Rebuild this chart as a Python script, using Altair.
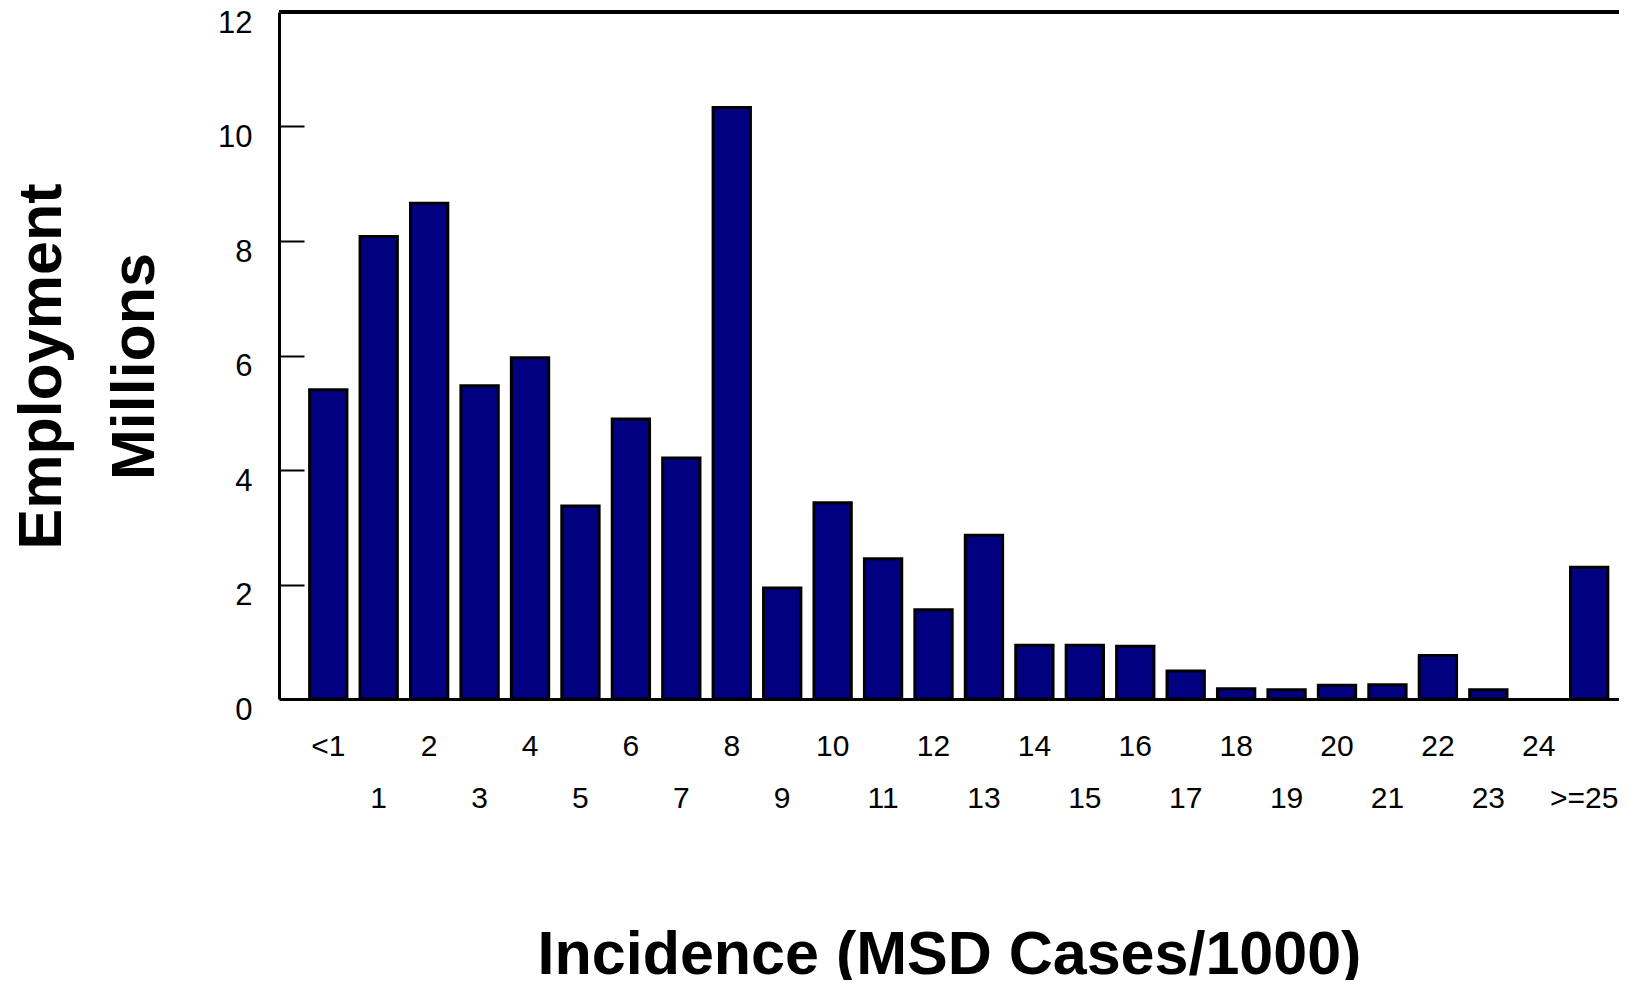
import altair as alt
import pandas as pd

categories = ["<1", "1", "2", "3", "4", "5", "6", "7", "8", "9", "10", "11", "12",
              "13", "14", "15", "16", "17", "18", "19", "20", "21", "22", "23", "24", ">=25"]
values = [5.40, 8.08, 8.66, 5.47, 5.96, 3.37, 4.89, 4.21, 10.33, 1.94, 3.43, 2.45, 1.56,
          2.86, 0.94, 0.94, 0.92, 0.49, 0.18, 0.16, 0.24, 0.25, 0.76, 0.16, 0.0, 2.30]
y_ticks = [0, 2, 4, 6, 8, 10, 12]
inner_ticks = [2, 4, 6, 8, 10]

df = pd.DataFrame({"cat": categories, "value": values})

FONT = "Liberation Sans"
W, H = 1340, 687

odd_labels = categories[1::2]
odd_list = ",".join("'%s'" % s for s in odd_labels)
label_expr = f"indexof([{odd_list}], datum.label) >= 0 ? ['', datum.label] : datum.label"

yscale = alt.Scale(domain=[0, 12], nice=False, zero=True)

bars = alt.Chart(df).mark_bar(color="#000080", stroke="black", strokeWidth=3).encode(
    x=alt.X("cat:N", sort=categories,
            scale=alt.Scale(paddingInner=0.26, paddingOuter=0.414, align=0.733),
            axis=alt.Axis(
                title="Incidence (MSD Cases/1000)",
                titleFont=FONT, titleFontSize=61, titleFontWeight="bold", titleColor="black",
                titleX=670, titleY=274, titleBaseline="alphabetic", titleAlign="center",
                titleAnchor="middle",
                labelExpr=label_expr, labelFont=FONT, labelFontSize=30, labelColor="black",
                labelBaseline="top", labelPadding=32, labelLineHeight=52, labelAngle=0,
                labelOverlap=False,
                labelOffset=alt.condition("datum.label == '>=25'", alt.value(-5), alt.value(0)),
                ticks=False, tickSize=0,
                domainColor="black", domainWidth=3,
            )),
    y=alt.Y("value:Q", scale=yscale, stack=None,
            axis=alt.Axis(
                title=["Employment", "Millions"],
                titleFont=FONT, titleFontSize=61, titleFontWeight="bold", titleColor="black",
                titleAngle=270, titleX=-219, titleY=354, titleBaseline="alphabetic",
                titleAlign="center", titleLineHeight=93,
                values=y_ticks, format="d", labelFont=FONT, labelFontSize=31, labelColor="black",
                labelPadding=27, labelOffset=11, labelBaseline="middle",
                ticks=False, tickSize=0, grid=False,
                domainColor="black", domainWidth=3,
            )),
    strokeOpacity=alt.condition("datum.value > 0", alt.value(1), alt.value(0)),
)

# inward tick marks: a right-oriented axis moved onto the left edge of the plot
tick_axis = alt.Chart(df).mark_point(opacity=0).encode(
    y=alt.Y("value:Q", scale=yscale,
            axis=alt.Axis(orient="right", offset=-W, values=inner_ticks,
                          domain=False, labels=False, title=None, grid=False,
                          ticks=True, tickSize=25, tickWidth=2, tickColor="black")),
)

top_line = alt.Chart(df).mark_rule(color="black", strokeWidth=3).encode(
    y=alt.YDatum(12, scale=yscale, axis=None),
    x=alt.value(0),
    x2=alt.value(W),
)

chart = alt.layer(bars, tick_axis, top_line).resolve_axis(y="independent").properties(
    width=W, height=H,
    autosize=alt.AutoSizeParams(type="none"),
    padding={"left": 271, "top": 4, "right": 0, "bottom": 281},
    background="white",
).configure_view(stroke=None)

chart.save("out.html", embed_options={"renderer": "svg", "actions": False})
